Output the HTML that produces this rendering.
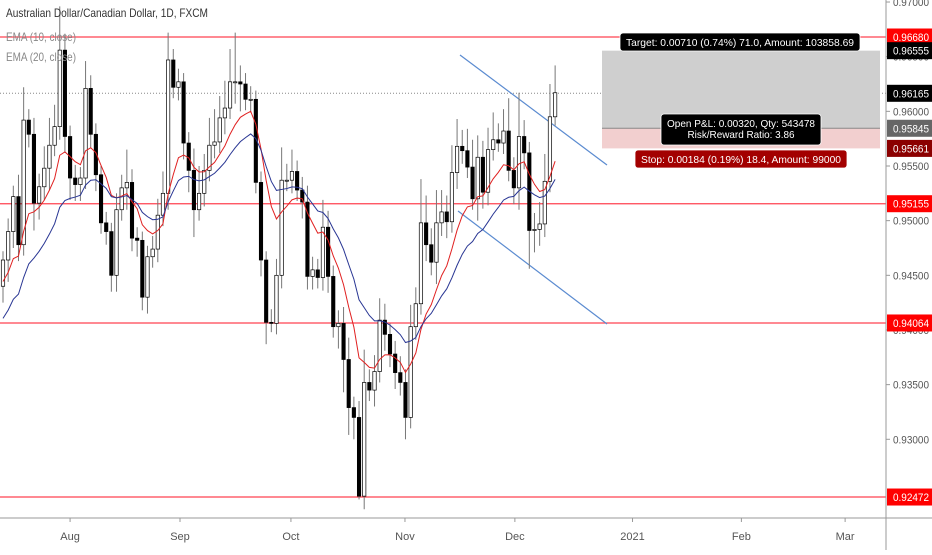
<!DOCTYPE html>
<html><head><meta charset="utf-8"><style>
body{margin:0;background:#fff;}
svg text{font-family:"Liberation Sans",sans-serif;}
</style></head><body>
<svg id="chart" width="932" height="550" viewBox="0 0 932 550" xmlns="http://www.w3.org/2000/svg">
<rect x="0" y="0" width="932" height="550" fill="#fff"/>
<g id="levels"></g>
<g id="position"></g>
<g id="trend"></g>
<g id="candles"></g>
<g id="emas"></g>
<g id="labels"></g>
<g id="yaxis"></g>
<g id="xaxis"></g>
<g>
<text x="6" y="17" font-size="12" fill="#333" textLength="202" lengthAdjust="spacingAndGlyphs">Australian Dollar/Canadian Dollar, 1D, FXCM</text>
<text x="6" y="41" font-size="12" fill="#888" textLength="70" lengthAdjust="spacingAndGlyphs">EMA (10, close)</text>
<text x="6" y="61" font-size="12" fill="#888" textLength="70" lengthAdjust="spacingAndGlyphs">EMA (20, close)</text>
</g>
</svg>
<script>
const closes=[0.9464,0.9490,0.9522,0.9478,0.9592,0.9579,0.9516,0.9531,0.9548,0.9569,
0.9586,0.9656,0.9577,0.9539,0.9533,0.9539,0.9621,0.9579,0.9542,0.9498,
0.9490,0.9450,0.9510,0.9530,0.9535,0.9484,0.9482,0.9430,0.9467,0.9474,
0.9505,0.9525,0.9647,0.9622,0.9627,0.9571,0.9546,0.9510,0.9525,0.9546,
0.9569,0.9572,0.9594,0.9603,0.9627,0.9627,0.9625,0.9611,0.9611,0.9535,
0.9464,0.9407,0.9406,0.9450,0.9537,0.9537,0.9545,0.9528,0.9517,0.9449,
0.9455,0.9448,0.9494,0.9449,0.9403,0.9406,0.9373,0.9329,0.9320,0.9248,
0.9352,0.9345,0.9362,0.9409,0.9396,0.9378,0.9361,0.9352,0.9320,0.9403,
0.9424,0.9498,0.9478,0.9462,0.9498,0.9508,0.9499,0.9544,0.9568,0.9564,
0.9549,0.9520,0.9558,0.9526,0.9565,0.9574,0.9571,0.9582,0.9546,0.9530,
0.9577,0.9562,0.9491,0.9492,0.9497,0.9536,0.9595,0.9617];
const firstOpen=0.9440;
const wickUpPips=[8,12,10,20,30,10,15,12,20,25,20,40,15,10,12,10,25,12,10,8,
10,8,15,12,30,12,10,8,10,12,15,20,25,10,12,8,10,20,25,15,
25,30,20,25,30,45,15,10,12,8,10,8,12,15,30,15,20,10,12,15,
12,10,25,15,10,12,15,20,10,15,30,12,15,20,15,10,12,15,12,20,
15,40,25,15,30,20,15,25,25,15,20,25,20,15,20,25,15,20,30,12,
40,15,10,15,20,25,30,25];
const wickDownPips=[15,20,15,15,10,12,25,15,12,20,10,12,15,20,15,15,10,12,15,10,
12,15,15,10,20,12,15,12,15,10,12,10,15,10,12,15,20,25,10,12,
10,12,10,15,10,20,25,10,12,10,15,20,8,10,12,10,12,10,15,12,
12,10,12,15,10,20,30,25,20,3,12,10,15,10,15,12,15,12,20,10,
12,10,15,12,20,12,15,10,15,12,10,10,20,15,12,10,8,10,10,15,
20,15,35,20,15,12,10,8];
const emaSeeds=[0.9440,0.9405];
const levelPrices=[0.96680,0.95155,0.94064,0.92472];
const tickPrices=[0.970,0.965,0.960,0.955,0.950,0.945,0.940,0.935,0.930];
const tickLabels=["0.97000","0.96500","0.96000","0.95500","0.95000","0.94500","0.94000","0.93500","0.93000"];
const monthLabels=["Aug","Sep","Oct","Nov","Dec","2021","Feb","Mar"];
const monthBarIndex=[13,34.3,55.8,77.9,99.2,122,143.1,163.2];
const entryPrice=0.95845, targetPrice=0.96555, stopPrice=0.95661, lastPrice=0.96165;

const NS="http://www.w3.org/2000/svg";
const yOf=p=>37+(0.96680-p)*10932;
const xOf=i=>3+i*5.16;
function mk(tag,attrs,parent){const e=document.createElementNS(NS,tag);for(const k in attrs)e.setAttribute(k,attrs[k]);parent.appendChild(e);return e;}
const G=id=>document.getElementById(id);

levelPrices.forEach((p,i)=>{const l=mk('line',{x1:0,x2:886,y1:yOf(p),y2:yOf(p),stroke:'#f23',"stroke-width":1.2,opacity:0.85},G('levels'));

});
const dl=mk('line',{x1:0,x2:886,y1:yOf(lastPrice),y2:yOf(lastPrice),stroke:'#888',"stroke-dasharray":"1,2"},G('levels'));



const pg=G('position');
let r=mk('rect',{x:602,y:yOf(targetPrice),width:278,height:yOf(entryPrice)-yOf(targetPrice),fill:'#cfcfcf'},pg);


r=mk('rect',{x:602,y:yOf(entryPrice),width:278,height:yOf(stopPrice)-yOf(entryPrice),fill:'#f2cfcf'},pg);


r=mk('line',{x1:602,x2:880,y1:yOf(entryPrice),y2:yOf(entryPrice),stroke:'#888'},pg);



[[460,55,607,165],[458,211,607,324]].forEach(c=>{const l=mk('line',{x1:c[0],y1:c[1],x2:c[2],y2:c[3],stroke:'#5b8bd0',"stroke-width":1.2},G('trend'));

});

const cg=G('candles');
const e10=[],e20=[];let a=emaSeeds[0],b=emaSeeds[1];
closes.forEach((c,i)=>{
 const o=i===0?firstOpen:closes[i-1];
 const hi=Math.max(o,c)+wickUpPips[i]*0.0001, lo=Math.min(o,c)-wickDownPips[i]*0.0001;
 const x=xOf(i);
 const w=mk('line',{x1:x,x2:x,y1:yOf(hi),y2:yOf(lo),stroke:'#777',"stroke-width":1},cg);
 
 
 const top=yOf(Math.max(o,c)),bot=yOf(Math.min(o,c));
 const bd=mk('rect',{x:x-1.7,y:top,width:3.4,height:Math.max(1,bot-top),fill:c>=o?'#fff':'#000',stroke:'#000',"stroke-width":0.7},cg);
 
 
 a=a+(c-a)*2/11; b=b+(c-b)*2/21; e10.push([x,yOf(a)]); e20.push([x,yOf(b)]);
});
[[e10,'#e02020','ema-10-line'],[e20,'#283593','ema-20-line']].forEach(s=>{
 const p=mk('polyline',{points:s[0].map(q=>q.join(',')).join(' '),fill:'none',stroke:s[1],"stroke-width":1},G('emas'));
 
 
});

const lg=G('labels');
function box(x,y,w,h,fill,lines,name){
 const g=mk('g',{},lg);
 
 
 mk('rect',{x:x,y:y,width:w,height:h,rx:3,fill:fill,stroke:'#fff',"stroke-width":0.8},g);
 lines.forEach((t,k)=>{const tx=mk('text',{x:x+w/2,y:y+13+k*11,"text-anchor":"middle","font-size":10.5,fill:'#fff',textLength:t[1],lengthAdjust:'spacingAndGlyphs'},g);tx.textContent=t[0];});
}
box(620,33,240,18,'#000',[['Target: 0.00710 (0.74%) 71.0, Amount: 103858.69',228]],'target-label');
box(661,114,160,31,'#000',[['Open P&L: 0.00320, Qty: 543478',148],['Risk/Reward Ratio: 3.86',107]],'pnl-label');
box(635,150,212,18,'#a30000',[['Stop: 0.00184 (0.19%) 18.4, Amount: 99000',200]],'stop-label');

const yg=G('yaxis');
mk('line',{x1:886,x2:886,y1:0,y2:550,stroke:'#999'},yg);
tickPrices.forEach((p,i)=>{const y=yOf(p);
 mk('line',{x1:886,x2:890,y1:y,y2:y,stroke:'#999'},yg);
 const t=mk('text',{x:893,y:y+4,"font-size":11,fill:'#555',textLength:36,lengthAdjust:'spacingAndGlyphs'},yg);
 
 
 t.textContent=tickLabels[i];});
const tags=[[0.96680,'#ff0000'],[targetPrice,'#000'],[lastPrice,'#000'],[entryPrice,'#666'],[stopPrice,'#8b0000'],[0.95155,'#ff0000'],[0.94064,'#ff0000'],[0.92472,'#ff0000']];
tags.forEach(tg=>{const y=yOf(tg[0]);
 const g=mk('g',{},yg);
 
 
 mk('rect',{x:887,y:y-8.5,width:45,height:17,fill:tg[1]},g);
 const t=mk('text',{x:893,y:y+4,"font-size":11,fill:'#fff',textLength:36,lengthAdjust:'spacingAndGlyphs'},g);t.textContent=tg[0].toFixed(5);});

const xg=G('xaxis');
mk('line',{x1:0,x2:932,y1:518,y2:518,stroke:'#999'},xg);
monthLabels.forEach((m,i)=>{const x=xOf(monthBarIndex[i]);
 mk('line',{x1:x,x2:x,y1:518,y2:522,stroke:'#999'},xg);
 const t=mk('text',{x:x,y:540,"text-anchor":"middle","font-size":11,fill:'#555'},xg);
 
 
 t.textContent=m;});
</script>
</body></html>
